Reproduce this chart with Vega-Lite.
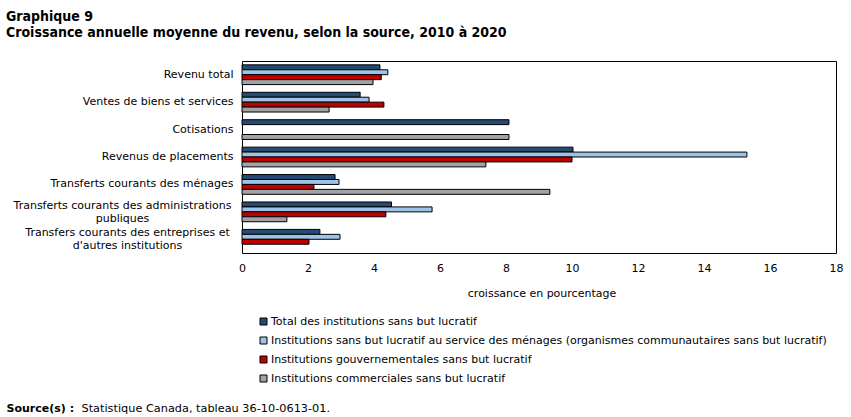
{
  "$schema": "https://vega.github.io/schema/vega-lite/v6.json",
  "width": 594,
  "height": 192,
  "autosize": {"type": "none"},
  "padding": {"left": 242, "top": 61, "right": 15, "bottom": 164},
  "background": "white",
  "config": {
    "font": "DejaVu Sans",
    "view": {"stroke": "#000", "strokeWidth": 1}
  },
  "title": {
    "text": "Graphique 9",
    "subtitle": "Croissance annuelle moyenne du revenu, selon la source, 2010 à 2020",
    "anchor": "start",
    "frame": "group",
    "dx": -236,
    "offset": 21,
    "font": "DejaVu Sans Condensed",
    "fontSize": 14,
    "fontWeight": "bold",
    "color": "#000",
    "subtitleFont": "DejaVu Sans Condensed",
    "subtitleFontSize": 14,
    "subtitleFontWeight": "bold",
    "subtitleColor": "#000",
    "subtitlePadding": 2
  },
  "data": {
    "values": [
      {"source": "Revenu total", "secteur": "Total des institutions sans but lucratif", "croissance": 4.18},
      {"source": "Revenu total", "secteur": "Institutions sans but lucratif au service des ménages (organismes communautaires sans but lucratif)", "croissance": 4.42},
      {"source": "Revenu total", "secteur": "Institutions gouvernementales sans but lucratif", "croissance": 4.22},
      {"source": "Revenu total", "secteur": "Institutions commerciales sans but lucratif", "croissance": 3.97},
      {"source": "Ventes de biens et services", "secteur": "Total des institutions sans but lucratif", "croissance": 3.58},
      {"source": "Ventes de biens et services", "secteur": "Institutions sans but lucratif au service des ménages (organismes communautaires sans but lucratif)", "croissance": 3.85},
      {"source": "Ventes de biens et services", "secteur": "Institutions gouvernementales sans but lucratif", "croissance": 4.3},
      {"source": "Ventes de biens et services", "secteur": "Institutions commerciales sans but lucratif", "croissance": 2.64},
      {"source": "Cotisations", "secteur": "Total des institutions sans but lucratif", "croissance": 8.09},
      {"source": "Cotisations", "secteur": "Institutions commerciales sans but lucratif", "croissance": 8.09},
      {"source": "Revenus de placements", "secteur": "Total des institutions sans but lucratif", "croissance": 10.03},
      {"source": "Revenus de placements", "secteur": "Institutions sans but lucratif au service des ménages (organismes communautaires sans but lucratif)", "croissance": 15.3},
      {"source": "Revenus de placements", "secteur": "Institutions gouvernementales sans but lucratif", "croissance": 10.0},
      {"source": "Revenus de placements", "secteur": "Institutions commerciales sans but lucratif", "croissance": 7.39},
      {"source": "Transferts courants des ménages", "secteur": "Total des institutions sans but lucratif", "croissance": 2.82},
      {"source": "Transferts courants des ménages", "secteur": "Institutions sans but lucratif au service des ménages (organismes communautaires sans but lucratif)", "croissance": 2.94},
      {"source": "Transferts courants des ménages", "secteur": "Institutions gouvernementales sans but lucratif", "croissance": 2.18},
      {"source": "Transferts courants des ménages", "secteur": "Institutions commerciales sans but lucratif", "croissance": 9.33},
      {"source": "Transferts courants des administrations publiques", "secteur": "Total des institutions sans but lucratif", "croissance": 4.53},
      {"source": "Transferts courants des administrations publiques", "secteur": "Institutions sans but lucratif au service des ménages (organismes communautaires sans but lucratif)", "croissance": 5.76},
      {"source": "Transferts courants des administrations publiques", "secteur": "Institutions gouvernementales sans but lucratif", "croissance": 4.36},
      {"source": "Transferts courants des administrations publiques", "secteur": "Institutions commerciales sans but lucratif", "croissance": 1.36},
      {"source": "Transfers courants des entreprises et d'autres institutions", "secteur": "Total des institutions sans but lucratif", "croissance": 2.36},
      {"source": "Transfers courants des entreprises et d'autres institutions", "secteur": "Institutions sans but lucratif au service des ménages (organismes communautaires sans but lucratif)", "croissance": 2.97},
      {"source": "Transfers courants des entreprises et d'autres institutions", "secteur": "Institutions gouvernementales sans but lucratif", "croissance": 2.03}
    ]
  },
  "mark": {"type": "bar", "stroke": "#000", "strokeWidth": 1},
  "encoding": {
    "y": {
      "field": "source",
      "type": "nominal",
      "sort": null,
      "scale": {"paddingInner": 0.28, "paddingOuter": 0.14},
      "axis": {
        "title": "Source(s) :",
        "titleAngle": 0,
        "titleAlign": "left",
        "titleBaseline": "alphabetic",
        "titleX": -236,
        "titleY": 350,
        "titleFont": "DejaVu Sans",
        "titleFontSize": 11,
        "titleFontWeight": "bold",
        "titleColor": "#000",
        "ticks": false,
        "domain": false,
        "grid": false,
        "labelFont": "DejaVu Sans",
        "labelFontSize": 11,
        "labelColor": "#000",
        "labelLimit": 300,
        "labelLineHeight": 13,
        "labelExpr": "datum.value === 'Transferts courants des administrations publiques' ? ['Transferts courants des administrations', 'publiques'] : datum.value === \"Transfers courants des entreprises et d'autres institutions\" ? ['Transfers courants des entreprises et', \"d'autres institutions\"] : datum.value",
        "labelAlign": {"condition": {"test": "indexof(datum.value, 'publiques') >= 0 || indexof(datum.value, 'autres institutions') >= 0", "value": "center"}, "value": "right"},
        "labelPadding": {"condition": [
          {"test": "indexof(datum.value, 'publiques') >= 0", "value": 120},
          {"test": "indexof(datum.value, 'autres institutions') >= 0", "value": 115}
        ], "value": 9},
        "labelOffset": {"condition": {"test": "indexof(datum.value, 'publiques') >= 0 || indexof(datum.value, 'autres institutions') >= 0", "value": -6}, "value": 0}
      }
    },
    "yOffset": {
      "field": "secteur",
      "type": "nominal",
      "sort": [
        "Total des institutions sans but lucratif",
        "Institutions sans but lucratif au service des ménages (organismes communautaires sans but lucratif)",
        "Institutions gouvernementales sans but lucratif",
        "Institutions commerciales sans but lucratif"
      ],
      "scale": {"paddingInner": 0, "paddingOuter": 0}
    },
    "x": {
      "field": "croissance",
      "type": "quantitative",
      "scale": {"domain": [0, 18], "nice": false},
      "axis": {
        "title": "Statistique Canada, tableau 36-10-0613-01.",
        "titleX": -161,
        "titleY": 158,
        "titleAlign": "left",
        "titleBaseline": "alphabetic",
        "titleFont": "DejaVu Sans",
        "titleFontSize": 11.3,
        "titleFontWeight": "normal",
        "titleColor": "#000",
        "values": [0, 2, 4, 6, 8, 10, 12, 14, 16, 18],
        "ticks": false,
        "domain": false,
        "grid": false,
        "labelFont": "DejaVu Sans",
        "labelFontSize": 11,
        "labelColor": "#000",
        "labelPadding": 9,
        "labelFlush": false
      }
    },
    "color": {
      "field": "secteur",
      "type": "nominal",
      "scale": {
        "domain": [
          "Total des institutions sans but lucratif",
          "Institutions sans but lucratif au service des ménages (organismes communautaires sans but lucratif)",
          "Institutions gouvernementales sans but lucratif",
          "Institutions commerciales sans but lucratif"
        ],
        "range": ["#244b73", "#9ec3e6", "#c00000", "#a3a3a3"]
      },
      "legend": {
        "orient": "none",
        "legendX": 16,
        "legendY": 227,
        "padding": 0,
        "title": "croissance en pourcentage",
        "titleAnchor": "middle",
        "titleAlign": "center",
        "titleFont": "DejaVu Sans",
        "titleFontSize": 11,
        "titleFontWeight": "normal",
        "titleColor": "#000",
        "titlePadding": 17,
        "symbolType": "square",
        "symbolSize": 49,
        "symbolStrokeColor": "#000",
        "symbolStrokeWidth": 1,
        "symbolOpacity": 1,
        "labelFont": "DejaVu Sans",
        "labelFontSize": 11,
        "labelColor": "#000",
        "labelOffset": 2,
        "labelLimit": 700,
        "rowPadding": 7
      }
    }
  }
}
